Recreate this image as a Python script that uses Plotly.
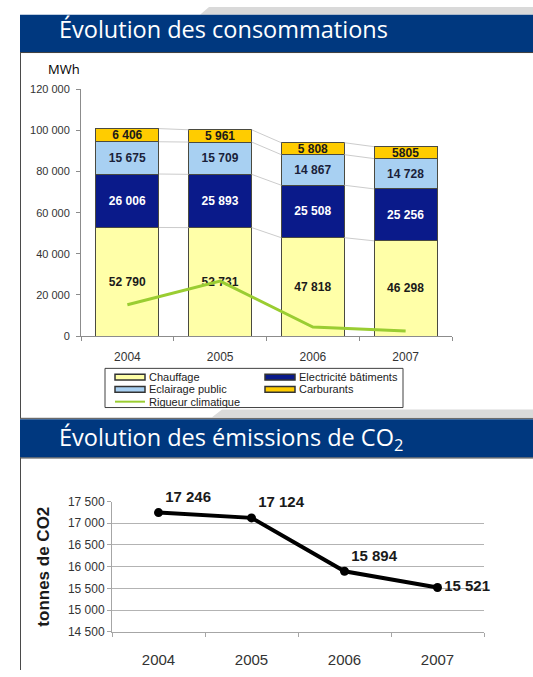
import plotly.graph_objects as go

# ---------------- data ----------------
years = [2004, 2005, 2006, 2007]
year_labels = ["2004", "2005", "2006", "2007"]

chauffage = [52790, 52731, 47818, 46298]
electricite = [26006, 25893, 25508, 25256]
eclairage = [15675, 15709, 14867, 14728]
carburants = [6406, 5961, 5808, 5805]
rigueur = [15200, 26700, 4400, 2400]

chauffage_labels = ["52 790", "52 731", "47 818", "46 298"]
electricite_labels = ["26 006", "25 893", "25 508", "25 256"]
eclairage_labels = ["15 675", "15 709", "14 867", "14 728"]
carburants_labels = ["6 406", "5 961", "5 808", "5805"]

co2 = [17246, 17124, 15894, 15521]
co2_labels = ["17 246", "17 124", "15 894", "15 521"]

# ---------------- geometry helpers ----------------
W, H = 533, 677
ML, MR = 81, 49
PW = W - ML - MR


def px(x):
    return (x - ML) / PW


def py(y):
    return 1 - y / H


FONT = "Arial, Liberation Sans, sans-serif"
TITLE_FONT = "Open Sans, Noto Sans, sans-serif"
BARGAP = 0.32
AXIS_GRAY = "#8c8c8c"
GREEN = "#9ACD32"

fig = go.Figure()

series = [
    ("Chauffage", chauffage, chauffage_labels, "#FFFFA8", "#1a1a1a"),
    ("Electricité bâtiments", electricite, electricite_labels, "#0A1A8A", "#ffffff"),
    ("Eclairage public", eclairage, eclairage_labels, "#A8D0F2", "#1a1f3a"),
    ("Carburants", carburants, carburants_labels, "#FFCC00", "#1a1a1a"),
]

# series lines (connectors between bar segment tops)
half = (1 - BARGAP) / 2
cum = [0, 0, 0, 0]
for name, vals, labels, color, tc in series:
    cum = [c + v for c, v in zip(cum, vals)]
    xs, ys = [], []
    for i in range(len(years) - 1):
        xs += [years[i] + half, years[i + 1] - half, None]
        ys += [cum[i], cum[i + 1], None]
    fig.add_trace(go.Scatter(x=xs, y=ys, mode="lines", showlegend=False,
                             line=dict(color="#cccccc", width=1),
                             hoverinfo="skip", xaxis="x", yaxis="y"))

for name, vals, labels, color, tc in series:
    fig.add_trace(go.Bar(
        x=years, y=vals, name=name, text=labels,
        textposition="inside", insidetextanchor="middle", textangle=0,
        constraintext="none", showlegend=False,
        textfont=dict(family=FONT, size=12, color=tc, weight="bold"),
        marker=dict(color=color, line=dict(color="#4a4a40", width=1)),
        xaxis="x", yaxis="y"))

fig.add_trace(go.Scatter(
    x=years, y=rigueur, name="Rigueur climatique", mode="lines", showlegend=False,
    line=dict(color=GREEN, width=3), xaxis="x", yaxis="y"))

fig.add_trace(go.Scatter(
    x=years, y=co2, mode="lines+markers+text", text=co2_labels,
    textposition=["top right", "top right", "top right", "middle right"],
    textfont=dict(family=FONT, size=15, color="#1a1a1a", weight="bold"),
    line=dict(color="black", width=4), marker=dict(color="black", size=9),
    cliponaxis=False, showlegend=False, xaxis="x2", yaxis="y2"))

boundaries = [2003.5, 2004.5, 2005.5, 2006.5, 2007.5]

shapes = [
    # decorative gray wedge top right
    dict(type="path", xref="paper", yref="paper",
         path=f"M{px(200)},{py(8)} L{px(209)},{py(0)} L{px(533)},{py(0)} L{px(533)},{py(8)} Z",
         fillcolor="#d9d9d9", line=dict(width=0), layer="below"),
    # title bar 1
    dict(type="rect", xref="paper", yref="paper", x0=px(20), x1=px(533),
         y0=py(46), y1=py(8), fillcolor="#00387F", line=dict(width=0)),
    dict(type="line", xref="paper", yref="paper", x0=px(20), x1=px(533),
         y0=py(46.5), y1=py(46.5), line=dict(color="#3c3c3c", width=1)),
    dict(type="line", xref="paper", yref="paper", x0=px(20.5), x1=px(20.5),
         y0=py(46), y1=py(420), line=dict(color="#4a4a4a", width=1)),
    # gray wedge between sections
    dict(type="path", xref="paper", yref="paper",
         path=f"M{px(212)},{py(419)} L{px(222)},{py(411)} L{px(533)},{py(411)} L{px(533)},{py(419)} Z",
         fillcolor="#dadada", line=dict(width=0), layer="below"),
    dict(type="line", xref="paper", yref="paper", x0=px(20), x1=px(533),
         y0=py(420), y1=py(420), line=dict(color="#4a4a4a", width=1)),
    # title bar 2
    dict(type="rect", xref="paper", yref="paper", x0=px(20), x1=px(533),
         y0=py(460), y1=py(421), fillcolor="#00387F", line=dict(width=0)),
    dict(type="line", xref="paper", yref="paper", x0=px(20), x1=px(533),
         y0=py(460.5), y1=py(460.5), line=dict(color="#3c3c3c", width=1)),
    dict(type="line", xref="paper", yref="paper", x0=px(20.5), x1=px(20.5),
         y0=py(460), y1=py(677), line=dict(color="#4a4a4a", width=1)),
    # legend box
    dict(type="rect", xref="paper", yref="paper", x0=px(105), x1=px(403),
         y0=py(409), y1=py(369), fillcolor="white", line=dict(color="#404040", width=1)),
]

annotations = [
    dict(text="Évolution des consommations", xref="paper", yref="paper",
         x=px(57), y=py(22), xanchor="left", yanchor="middle", showarrow=False,
         font=dict(family=TITLE_FONT, size=23.5, color="white")),
    dict(text="Évolution des émissions de CO<sub>2</sub>", xref="paper", yref="paper",
         x=px(57), y=py(441), xanchor="left", yanchor="middle", showarrow=False,
         font=dict(family=TITLE_FONT, size=23.5, color="white")),
    dict(text="MWh", xref="paper", yref="paper", x=px(64), y=py(63),
         xanchor="center", yanchor="middle", showarrow=False,
         font=dict(family=TITLE_FONT, size=13, color="black")),
]

# hand-drawn legend (compact, two columns as in the original)
legend_items = [(s[0], s[3], "bar") for s in series] + [("Rigueur climatique", GREEN, "line")]
col_x = [115, 265]
row_y = [378, 390.5, 403]
for k, (name, color, kind) in enumerate(legend_items):
    cx = col_x[k % 2]
    cy = row_y[k // 2]
    if kind == "bar":
        shapes.append(dict(type="rect", xref="paper", yref="paper",
                           x0=px(cx), x1=px(cx + 30), y0=py(cy + 3), y1=py(cy - 3),
                           fillcolor=color, line=dict(color="#333333", width=1.5)))
    else:
        shapes.append(dict(type="line", xref="paper", yref="paper",
                           x0=px(cx), x1=px(cx + 30), y0=py(cy), y1=py(cy),
                           line=dict(color=color, width=2)))
    annotations.append(dict(text=name, xref="paper", yref="paper",
                            x=px(cx + 32), y=py(cy), xanchor="left", yanchor="middle",
                            showarrow=False,
                            font=dict(family=FONT, size=11, color="#222222")))

fig.update_layout(
    width=W, height=H,
    margin=dict(l=ML, r=MR, t=0, b=0),
    paper_bgcolor="white", plot_bgcolor="white",
    barmode="stack", bargap=BARGAP,
    separators=", ",
    font=dict(family=FONT, color="#333333"),
    shapes=shapes, annotations=annotations,
    showlegend=False,
    xaxis=dict(domain=[px(81), px(452)], anchor="y", range=[2003.5, 2007.5],
               tickmode="array", tickvals=years, ticktext=year_labels, ticks="",
               ticklabelstandoff=10,
               showline=True, linecolor=AXIS_GRAY, showgrid=False, zeroline=False,
               tickfont=dict(size=12, color="#333333"),
               minor=dict(tickmode="array", tickvals=boundaries, ticks="outside",
                          ticklen=4, tickcolor=AXIS_GRAY, showgrid=False)),
    yaxis=dict(domain=[py(336), py(84)], anchor="x", range=[0, 120000],
               tick0=0, dtick=20000, tickformat=",d",
               ticks="outside", ticklen=4, tickcolor=AXIS_GRAY,
               ticklabelstandoff=4,
               showline=True, linecolor=AXIS_GRAY, showgrid=False, zeroline=False,
               tickfont=dict(size=11, color="#333333")),
    xaxis2=dict(domain=[px(112), 1], anchor="y2", range=[2003.5, 2007.5],
                tickmode="array", tickvals=years, ticktext=year_labels, ticks="",
                ticklabelstandoff=14,
                showline=True, linecolor="#a6a6a6", showgrid=False, zeroline=False,
                tickfont=dict(size=15, color="#333333"),
                minor=dict(tickmode="array", tickvals=boundaries, ticks="outside",
                           ticklen=4, tickcolor="#a6a6a6", showgrid=False)),
    yaxis2=dict(domain=[py(638), py(505)], anchor="x2", range=[14500, 17500],
                tick0=14500, dtick=500, tickformat=",d",
                ticks="outside", ticklen=4, tickcolor="#a6a6a6",
                showline=True, linecolor="#a6a6a6", showgrid=True,
                gridcolor="#b3b3b3", gridwidth=1.2, zeroline=False,
                tickfont=dict(size=12, color="#333333"),
                title=dict(text="tonnes de CO2", standoff=13,
                           font=dict(family=FONT, size=17, color="#1a1a1a", weight="bold"))),
)

fig.write_html("out.html", config={"displayModeBar": False},
               post_script="document.body.style.margin='0px';document.body.style.overflow='hidden';")
